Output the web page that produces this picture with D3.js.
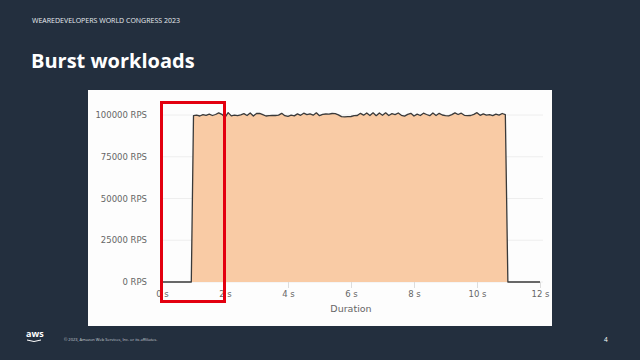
<!DOCTYPE html>
<html>
<head>
<meta charset="utf-8">
<script src="https://cdn.jsdelivr.net/npm/d3@7"></script>
<style>
  body { margin: 0; background: #232f3e; }
  svg { display: block; }
</style>
</head>
<body>
<div id="div_chart"></div>
<script>
// Chart data
const rampTimes = [0, 0.93];
const rampValues = [0, 0];
const burstStart = 1.0;
const burstStep = 0.1;
const burstValues = [
  99600, 99900, 99400, 100200, 99800, 100500, 99700, 100300, 101300, 100400,
  98600, 101400, 99500, 99900, 99600, 100100, 100800, 99700, 101200, 99400,
  100900, 101000, 100200, 99400, 99600, 99800, 99700, 99900, 101000, 99600,
  99200, 99900, 99500, 100700, 99800, 101100, 100200, 100700, 99900, 101300,
  99600, 100400, 100600, 100500, 100900, 100800, 100100, 99000, 98900, 99000,
  99100, 99600, 99700, 101000, 99900, 101200, 99700, 101300, 99600, 101200,
  99800, 101300, 99700, 100800, 100200, 101200, 99800, 99300, 100400, 101000,
  99400, 100500, 99700, 101100, 100300, 99600, 101200, 99700, 101000, 100000,
  99600, 99500, 100200, 101300, 100300, 101100, 99800, 99600, 99700, 100400,
  101400, 99800, 100700, 99900, 100200, 99600, 100500, 99900, 100900, 100200
];
const tailTimes = [10.98, 12];
const tailValues = [0, 0];
const yTicks = [0, 25000, 50000, 75000, 100000];
const xTicks = [0, 2, 4, 6, 8, 10, 12];

// Build one series
const series = [];
rampTimes.forEach((t, i) => series.push({t: t, v: rampValues[i]}));
burstValues.forEach((v, i) => series.push({t: +(burstStart + i * burstStep).toFixed(2), v: v}));
tailTimes.forEach((t, i) => series.push({t: t, v: tailValues[i]}));

const W = 640, H = 360;
const svg = d3.select("#div_chart").append("svg")
    .attr("width", W).attr("height", H)
    .style("font-family", "'DejaVu Sans', sans-serif");

// Slide background
svg.append("rect").attr("width", W).attr("height", H).attr("fill", "#232f3e");

svg.append("text")
    .attr("x", 32).attr("y", 23)
    .attr("fill", "#e8ecef")
    .style("font-family", "'Open Sans', sans-serif")
    .style("font-size", "7px")
    .text("WEAREDEVELOPERS WORLD CONGRESS 2023");

svg.append("text")
    .attr("x", 31).attr("y", 68)
    .attr("fill", "#ffffff")
    .style("font-family", "'Open Sans', sans-serif")
    .style("font-weight", "bold")
    .style("font-size", "20px")
    .text("Burst workloads");

// Chart panel
svg.append("rect")
    .attr("x", 88).attr("y", 90).attr("width", 464).attr("height", 236)
    .attr("fill", "#fdfdfd");

const x = d3.scaleLinear().domain([0, 12]).range([162, 540]);
const y = d3.scaleLinear().domain([0, 100000]).range([282, 115]);

// Grid lines
svg.append("g")
    .selectAll("line")
    .data(yTicks)
    .join("line")
        .attr("x1", x(0)).attr("x2", x(12) + 3)
        .attr("y1", d => y(d)).attr("y2", d => y(d))
        .attr("stroke", "#eeeeee")
        .attr("stroke-width", 1);

// Y axis labels
const yAxis = svg.append("g")
    .attr("transform", "translate(" + x(0) + ",0)")
    .call(d3.axisLeft(y).tickValues(yTicks).tickSize(0).tickPadding(15).tickFormat(d => d + " RPS"));
yAxis.select(".domain").remove();
yAxis.selectAll("text").attr("fill", "#666").style("font-size", "8.5px").style("font-family", "'DejaVu Sans', sans-serif");

// X axis
const xAxis = svg.append("g")
    .attr("transform", "translate(0," + y(0) + ")")
    .call(d3.axisBottom(x).tickValues(xTicks).tickSize(6).tickPadding(3).tickFormat(d => d + " s"));
xAxis.select(".domain").remove();
xAxis.selectAll("line").attr("stroke", "#dddddd");
xAxis.selectAll("text").attr("fill", "#666").style("font-size", "8.5px").style("font-family", "'DejaVu Sans', sans-serif");

svg.append("text")
    .attr("x", (x(0) + x(12)) / 2).attr("y", 312)
    .attr("text-anchor", "middle")
    .attr("fill", "#666")
    .style("font-size", "9.5px")
    .text("Duration");

// Area and line
const area = d3.area().x(d => x(d.t)).y0(y(0)).y1(d => y(d.v));
const line = d3.line().x(d => x(d.t)).y(d => y(d.v));

svg.append("path")
    .datum(series)
    .attr("d", area)
    .attr("fill", "#f9cba5");

svg.append("path")
    .datum(series)
    .attr("d", line)
    .attr("fill", "none")
    .attr("stroke", "#3a3a3a")
    .attr("stroke-width", 1.3)
    .attr("stroke-linejoin", "round");

// Highlight box
svg.append("rect")
    .attr("x", 161.5).attr("y", 102.5).attr("width", 63).attr("height", 199)
    .attr("fill", "none")
    .attr("stroke", "#e3000f")
    .attr("stroke-width", 3);

// Footer
const logo = svg.append("g").attr("transform", "translate(26,331)");
logo.append("text")
    .attr("x", 0).attr("y", 6)
    .attr("fill", "#ffffff")
    .style("font-family", "'Open Sans', sans-serif")
    .style("font-weight", "bold")
    .style("font-size", "9px")
    .text("aws");
logo.append("path")
    .attr("d", "M1,9 Q8,12 15,9")
    .attr("fill", "none")
    .attr("stroke", "#ffffff")
    .attr("stroke-width", 1);

svg.append("text")
    .attr("x", 64).attr("y", 341)
    .attr("fill", "#c8ced4")
    .style("font-family", "'Open Sans', sans-serif")
    .style("font-size", "4px")
    .text("© 2023, Amazon Web Services, Inc. or its affiliates.");

svg.append("text")
    .attr("x", 604).attr("y", 342)
    .attr("fill", "#ffffff")
    .style("font-family", "'Open Sans', sans-serif")
    .style("font-size", "6.5px")
    .text("4");
</script>
</body>
</html>
